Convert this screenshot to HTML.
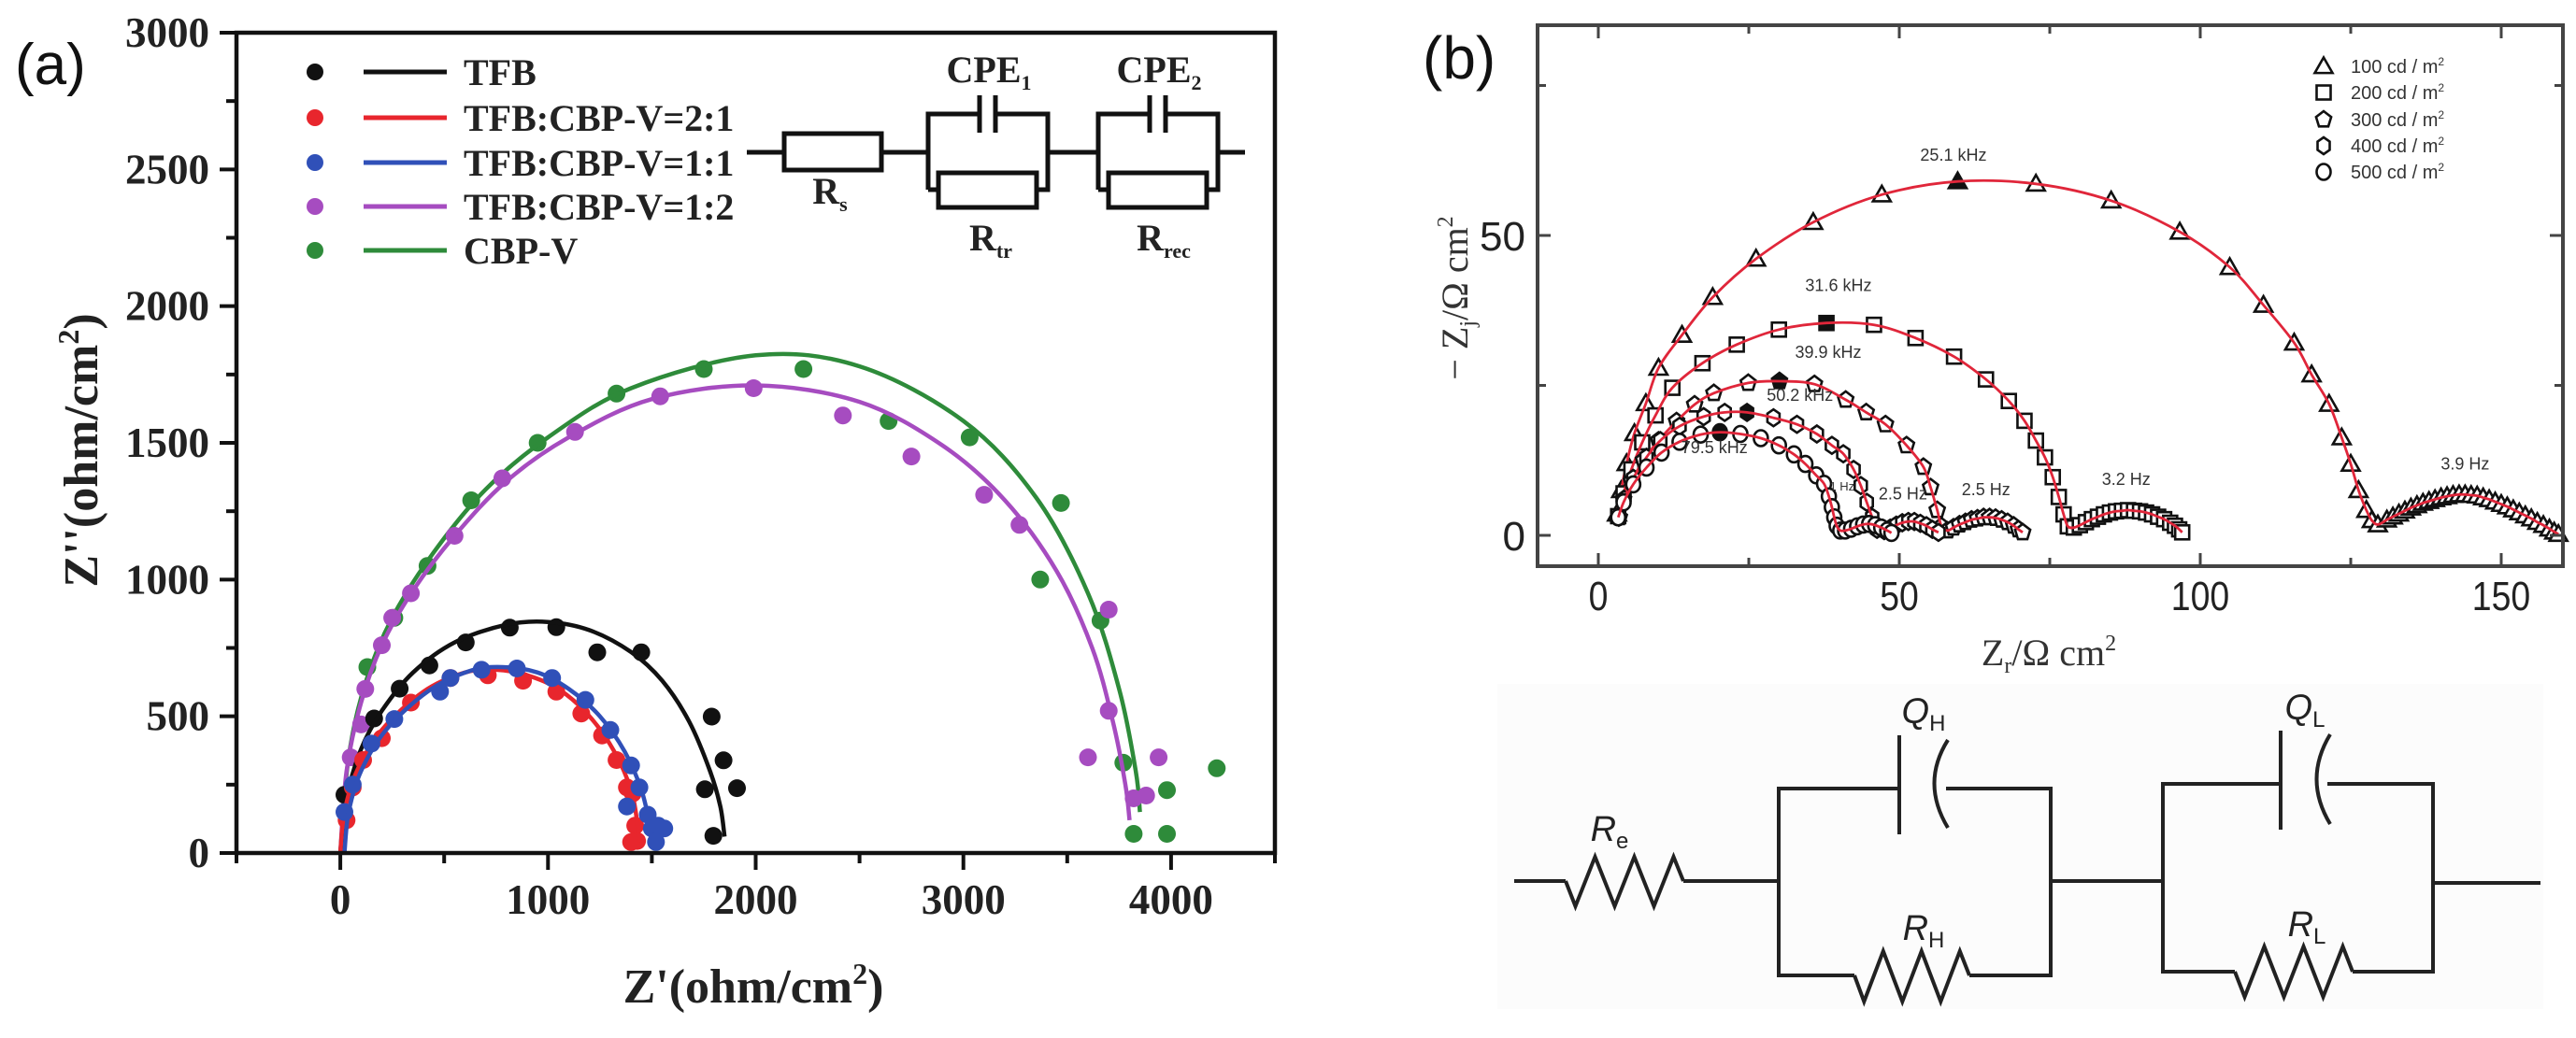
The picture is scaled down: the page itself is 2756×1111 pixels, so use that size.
<!DOCTYPE html>
<html><head><meta charset="utf-8"><style>
html,body{margin:0;padding:0;background:#fff;}
svg{display:block;}
</style></head><body>
<svg id="fig" xmlns="http://www.w3.org/2000/svg" width="2756" height="1111" viewBox="0 0 2756 1111">
<rect x="0" y="0" width="2756" height="1111" fill="#fff"/>
<g id="pa"></g>
<g id="pb"></g>
</svg>
<script>
// ---------- Panel (a) data ----------
const aSeriesNames = ["TFB","TFB:CBP-V=2:1","TFB:CBP-V=1:1","TFB:CBP-V=1:2","CBP-V"];
const aColors = ["#111111","#e8262d","#3050b8","#a64cc0","#2e8b3a"];
const aPtsTFB = [[20,213],[163,492],[286,601],[429,686],[604,770],[816,824],[1040,826],[1237,734],[1449,734],[1788,499],[1845,339],[1910,237],[1755,233],[1796,63]];
const aPtsR21 = [[30,120],[60,240],[110,340],[200,420],[340,550],[530,640],[710,650],[880,630],[1040,590],[1160,510],[1260,430],[1330,340],[1380,240],[1408,218],[1420,100],[1429,44],[1400,40]];
const aPtsR11 = [[20,150],[60,250],[150,400],[260,490],[480,590],[530,640],[680,670],[850,675],[1020,640],[1180,560],[1300,450],[1400,320],[1440,240],[1480,140],[1500,90],[1530,100],[1560,90],[1520,40],[1380,170]];
const aPtsR12 = [[50,350],[100,470],[120,600],[200,760],[250,860],[340,950],[550,1160],[780,1370],[1130,1540],[1540,1670],[1990,1700],[2420,1600],[2750,1450],[3100,1310],[3270,1200],[3700,890],[3700,520],[3600,350],[3820,200],[3880,210],[3940,350]];
const aPtsCBP = [[130,680],[260,860],[420,1050],[630,1290],[950,1500],[1330,1680],[1750,1770],[2230,1770],[2640,1580],[3030,1520],[3470,1280],[3370,1000],[3660,850],[3770,330],[3820,70],[3980,70],[3980,230],[4220,310]];
const aFitTFB = [[0,0],[30,200],[100,380],[200,520],[350,660],[550,770],[800,835],[1000,845],[1200,815],[1400,735],[1550,630],[1680,480],[1780,300],[1830,170],[1850,60]];
const aFitR21 = [[0,0],[20,150],[80,300],[200,450],[400,590],[600,660],[750,670],[900,650],[1050,600],[1200,500],[1320,370],[1400,230],[1430,110],[1440,40]];
const aFitR11 = [[20,0],[40,150],[100,300],[220,450],[420,590],[620,665],[780,680],[950,660],[1100,600],[1250,500],[1370,370],[1450,230],[1490,100],[1500,20]];
const aFitR12 = [[0,0],[30,300],[100,550],[200,760],[350,960],[550,1160],[800,1360],[1100,1520],[1500,1660],[2000,1710],[2500,1650],[2900,1490],[3200,1290],[3450,1030],[3620,750],[3720,480],[3780,250],[3800,120]];
const aFitCBP = [[0,0],[40,350],[120,620],[250,860],[450,1100],[700,1330],[1000,1520],[1400,1700],[2000,1820],[2500,1780],[3000,1580],[3350,1300],[3600,950],[3750,600],[3830,300],[3850,150]];
const aXTicks = [0,1000,2000,3000,4000];
const aYTicks = [0,500,1000,1500,2000,2500,3000];

// ---------- Panel (b) data ----------
const bSeriesNames = ["100 cd / m","200 cd / m","300 cd / m","400 cd / m","500 cd / m"];
const bShapes = ["tri","sq","pent","hex","circ"];
const bPts100 = [[3.1,3.6],[3.8,7.5],[4.7,12],[6,17],[7.9,22],[10,27.9],[13.9,33.4],[19,39.7],[26.2,46.1],[35.7,52.2],[47.1,56.8],[59.7,59],[72.7,58.6],[85.2,55.8],[96.6,50.6],[104.9,44.7],[110.5,38.4],[115.6,32.1],[118.5,26.8],[121.4,21.9],[123.5,16.3],[125,11.9],[126.3,7.5],[127.6,4.2],[128.5,2.5],[129.5,1.8],[131,2.6],[132,3.1],[133,3.6],[134,4.1],[135,4.6],[136,5],[137,5.4],[138,5.7],[139,6],[140,6.3],[141,6.5],[142,6.7],[143,6.8],[144,6.8],[145,6.7],[146,6.6],[147,6.3],[148,6],[149,5.6],[150,5.2],[151,4.8],[152,4.3],[153,3.8],[154,3.3],[155,2.8],[156,2.2],[157,1.7],[158,1.1],[158.8,0.6],[159.5,0.2]];
const bPts200 = [[3.3,3.2],[4.2,7],[5.5,11],[7.3,15.5],[9.5,20],[12.3,24.6],[17.3,28.7],[23,31.8],[30,34.3],[37.9,35.4],[45.8,35.1],[52.7,32.9],[59.1,29.8],[64.4,26],[68.2,22.4],[70.8,19.1],[72.7,15.8],[74.2,13],[75.5,9.7],[76.5,6.4],[77.3,3.5],[78,1.5],[79,1.3],[80,1.7],[81,2.2],[82,2.7],[83,3.1],[84,3.5],[85,3.8],[86,4],[87,4.1],[88,4.2],[89,4.1],[90,4],[91,3.8],[92,3.5],[93,3.1],[94,2.7],[95,2.1],[95.8,1.6],[96.5,1],[97,0.5]];
const bPts300 = [[3.5,3],[4.2,6],[5.5,9],[7.5,12.5],[10,15.8],[13,19],[16,21.8],[19.2,23.7],[24.9,25.4],[30.1,25.7],[35.9,25.2],[41.1,22.6],[44.5,20.5],[47.7,18.5],[51.2,15],[54,11.4],[55.2,8],[56.3,4.2],[57,1.5],[58,0.8],[59,1.3],[60,1.8],[61,2.2],[62,2.6],[63,2.8],[64,3],[65,3],[66,2.9],[67,2.6],[68,2.2],[69,1.6],[69.8,1],[70.5,0.5]];
const bPts400 = [[3.4,3],[4.3,6],[5.8,9.5],[8,13],[10.3,15.8],[13.5,18.2],[17.5,19.8],[21,20.5],[24.7,20.5],[29.1,19.6],[33,18.5],[36.3,16.9],[38.8,15],[40.7,13.6],[42.4,11],[43.6,8.3],[44.6,5.5],[45.5,3],[46.3,1],[47.5,0.8],[48.5,1.2],[49.5,1.7],[50.5,2.1],[51.5,2.3],[52.5,2.3],[53.5,2],[54.5,1.6],[55.5,1],[56.5,0.5]];
const bPts500 = [[3.3,3],[4.2,5.5],[5.8,8.5],[8,11.3],[10.5,13.8],[13.5,15.6],[17,16.8],[20.2,17.2],[23.6,16.9],[27,16.2],[30,15],[32.5,13.5],[34.4,11.9],[36.2,10],[37.5,8.6],[38.3,6.5],[38.8,4.7],[39.2,3],[39.6,1.6],[40.2,0.8],[41,0.8],[42,1.1],[43,1.5],[44,1.8],[45,1.9],[46,1.7],[47,1.3],[48,0.8],[48.7,0.4]];
const bFilledIdx = [11,9,9,8,7];
const bFreqLabels = ["25.1 kHz","31.6 kHz","39.9 kHz","50.2 kHz","79.5 kHz","1 Hz","2.5 Hz","2.5 Hz","3.2 Hz","3.9 Hz"];
const bFreqX = [59,39.9,38.2,33.5,19.3,40.5,50.6,64.4,87.7,144];
const bFreqY = [62.5,40.7,29.6,22.4,13.7,7.5,6,6.7,8.4,11];
const bXTicks = [0,50,100,150];
const bYTicks = [0,50];

const NS = "http://www.w3.org/2000/svg";
function mk(parent, tag, attrs, text){
  const e = document.createElementNS(NS, tag);
  for (const k in attrs) e.setAttribute(k, attrs[k]);
  if (text !== undefined) e.textContent = text;
  parent.appendChild(e);
  return e;
}
function smoothPath(pts){
  let d = "M"+pts[0][0].toFixed(1)+","+pts[0][1].toFixed(1);
  for (let i=0;i<pts.length-1;i++){
    const p0=pts[Math.max(0,i-1)], p1=pts[i], p2=pts[i+1], p3=pts[Math.min(pts.length-1,i+2)];
    const c1=[p1[0]+(p2[0]-p0[0])/6, p1[1]+(p2[1]-p0[1])/6];
    const c2=[p2[0]-(p3[0]-p1[0])/6, p2[1]-(p3[1]-p1[1])/6];
    d += " C"+c1[0].toFixed(1)+","+c1[1].toFixed(1)+" "+c2[0].toFixed(1)+","+c2[1].toFixed(1)+" "+p2[0].toFixed(1)+","+p2[1].toFixed(1);
  }
  return d;
}

// ================= PANEL A =================
(function(){
  const g = document.getElementById("pa");
  const L=253, R=1364, T=35, B=913;
  const ax = v => L + (v + 500) / 5000 * (R - L);
  const ay = v => B - v / 3000 * (B - T);
  const serif = '"Liberation Serif", serif';

  const lbl = mk(g,"text",{x:16,y:90,"font-family":'"Liberation Sans", sans-serif',"font-size":62,fill:"#111"},"(a)");
  
  

  const fits=[aFitTFB,aFitR21,aFitR11,aFitR12,aFitCBP];
  const pts=[aPtsTFB,aPtsR21,aPtsR11,aPtsR12,aPtsCBP];
  const order=[4,3,0,1,2];
  order.forEach(i=>{
    const sg = mk(g,"g",{});
    
    
    pts[i].forEach(p=>{
      const c = mk(sg,"circle",{cx:ax(p[0]).toFixed(1),cy:ay(p[1]).toFixed(1),r:9.5,fill:aColors[i]});
      
      
    });
    const f = mk(sg,"path",{d:smoothPath(fits[i].map(p=>[ax(p[0]),ay(p[1])])),fill:"none",stroke:aColors[i],"stroke-width":4.5});
    
    
  });

  const frame = mk(g,"rect",{x:L,y:T,width:R-L,height:B-T,fill:"none",stroke:"#111","stroke-width":4.5});
  
  

  const xa = mk(g,"g",{});
  
  
  for (let v=-500; v<=4500; v+=500){
    const major = (v%1000===0);
    mk(xa,"line",{x1:ax(v),x2:ax(v),y1:B,y2:B+(major?18:11),stroke:"#111","stroke-width":4});
  }
  aXTicks.forEach(v=>{
    const t = mk(xa,"text",{x:ax(v),y:978,"text-anchor":"middle","font-family":serif,"font-weight":"bold","font-size":45,fill:"#222"},String(v));
    
    
  });
  const ya = mk(g,"g",{});
  
  
  for (let v=0; v<=3000; v+=250){
    const major = (v%500===0);
    mk(ya,"line",{x1:L,x2:L-(major?18:11),y1:ay(v),y2:ay(v),stroke:"#111","stroke-width":4});
  }
  aYTicks.forEach(v=>{
    const t = mk(ya,"text",{x:224,y:ay(v)+15,"text-anchor":"end","font-family":serif,"font-weight":"bold","font-size":45,fill:"#222"},String(v));
    
    
  });
  const xt = mk(g,"text",{x:806,y:1073,"text-anchor":"middle","font-family":serif,"font-weight":"bold","font-size":52,fill:"#222"});
  
  
  xt.innerHTML = "Z'(ohm/cm<tspan dy='-20' font-size='32'>2</tspan><tspan dy='20'>)</tspan>";
  const yt = mk(g,"text",{x:0,y:0,"text-anchor":"middle","font-family":serif,"font-weight":"bold","font-size":52,fill:"#222",transform:"translate(104,482) rotate(-90)"});
  
  
  yt.innerHTML = "Z''(ohm/cm<tspan dy='-20' font-size='32'>2</tspan><tspan dy='20'>)</tspan>";

  const lg = mk(g,"g",{});
  
  
  const rowsY=[77,126,174,221,268];
  aSeriesNames.forEach((n,i)=>{
    const e = mk(lg,"g",{});
    
    
    mk(e,"circle",{cx:337,cy:rowsY[i],r:9,fill:aColors[i]});
    mk(e,"line",{x1:389,x2:478,y1:rowsY[i],y2:rowsY[i],stroke:aColors[i],"stroke-width":5});
    mk(e,"text",{x:496,y:rowsY[i]+14,"font-family":serif,"font-weight":"bold","font-size":40,fill:"#222"},n);
  });

  const c = mk(g,"g",{stroke:"#111","stroke-width":5,fill:"none"});
  
  
  const W=163;
  mk(c,"path",{d:`M799 ${W} H839 M943 ${W} H993 M1121 ${W} H1175 M1303 ${W} H1332`});
  mk(c,"rect",{x:839,y:143,width:104,height:39,fill:"#fff"});
  [[993,1121,1004,1109,1048,1065],[1175,1303,1186,1291,1230,1247]].forEach(b=>{
    mk(c,"path",{d:`M${b[0]} 203 V122 H${b[4]} M${b[5]} 122 H${b[1]} V203 H${b[3]} M${b[0]} 203 H${b[2]}`});
    mk(c,"path",{d:`M${b[4]} 102 V142 M${b[5]} 102 V142`});
    mk(c,"rect",{x:b[2],y:185,width:b[3]-b[2],height:37,fill:"#fff"});
  });
  const ct = mk(g,"g",{"font-family":serif,"font-weight":"bold","font-size":40,fill:"#222","text-anchor":"middle"});
  
  
  ct.innerHTML = "<text x='1058' y='88'>CPE<tspan font-size='22' dy='8'>1</tspan></text>"+
    "<text x='1240' y='88'>CPE<tspan font-size='22' dy='8'>2</tspan></text>"+
    "<text x='888' y='218'>R<tspan font-size='22' dy='8'>s</tspan></text>"+
    "<text x='1060' y='268'>R<tspan font-size='22' dy='8'>tr</tspan></text>"+
    "<text x='1245' y='268'>R<tspan font-size='22' dy='8'>rec</tspan></text>";
})();

// ================= PANEL B =================
(function(){
  const g = document.getElementById("pb");
  const L=1645, R=2742, T=27, B=606;
  const bx = v => 1710 + v * 6.44;
  const by = v => 573 - v * 6.42;
  const sans = '"Liberation Sans", sans-serif';
  const serif = '"Liberation Serif", serif';

  const lbl = mk(g,"text",{x:1522,y:84,"font-family":sans,"font-size":64,fill:"#111"},"(b)");
  
  

  function marker(parent, shape, x, y, filled){
    const s=9.5, st={fill:filled?"#111":"#fff",stroke:"#111","stroke-width":2.6};
    let e;
    if (shape==="tri") e = mk(parent,"polygon",Object.assign({points:`${x},${y-s} ${x+s},${y+s*0.75} ${x-s},${y+s*0.75}`},st));
    else if (shape==="sq") e = mk(parent,"rect",Object.assign({x:x-7.5,y:y-7.5,width:15,height:15},st));
    else if (shape==="pent"){ let p=[]; for(let k=0;k<5;k++){const a=-Math.PI/2+k*2*Math.PI/5; p.push((x+8.5*Math.cos(a)).toFixed(1)+","+(y+9*Math.sin(a)).toFixed(1));} e = mk(parent,"polygon",Object.assign({points:p.join(" ")},st)); }
    else if (shape==="hex"){ let p=[]; for(let k=0;k<6;k++){const a=-Math.PI/2+k*Math.PI/3; p.push((x+7.5*Math.cos(a)).toFixed(1)+","+(y+9*Math.sin(a)).toFixed(1));} e = mk(parent,"polygon",Object.assign({points:p.join(" ")},st)); }
    else e = mk(parent,"ellipse",Object.assign({cx:x,cy:y,rx:7.5,ry:8.5},st));
    return e;
  }

  const all=[bPts100,bPts200,bPts300,bPts400,bPts500];
  all.forEach((pts,i)=>{
    const sg = mk(g,"g",{});
    
    
    pts.forEach((p,j)=>{
      const m = marker(sg,bShapes[i],bx(p[0]),by(p[1]),j===bFilledIdx[i]);
      
      
    });
    const f = mk(sg,"path",{d:smoothPath(pts.map(p=>[bx(p[0]),by(p[1])])),fill:"none",stroke:"#e0263a","stroke-width":2.8});
    
    
  });

  bFreqLabels.forEach((t,i)=>{
    const e = mk(g,"text",{x:bx(bFreqX[i]),y:by(bFreqY[i]),"text-anchor":"middle","font-family":sans,"font-size":i===5?13:18,fill:"#333"},t);
    
    
  });

  const frame = mk(g,"rect",{x:L,y:T,width:R-L,height:B-T,fill:"none",stroke:"#444","stroke-width":4});
  
  

  const xa = mk(g,"g",{stroke:"#444","stroke-width":3});
  
  
  for (let v=0; v<=150; v+=25){
    const len = (v%50===0)?14:9;
    mk(xa,"line",{x1:bx(v),x2:bx(v),y1:B,y2:B-len});
    mk(xa,"line",{x1:bx(v),x2:bx(v),y1:T,y2:T+len});
  }
  bXTicks.forEach(v=>{
    const t = mk(g,"text",{x:bx(v),y:653,"text-anchor":"middle","font-family":sans,"font-size":44,fill:"#222",transform:`translate(${bx(v)},0) scale(0.85,1) translate(${-bx(v)},0)`},String(v));
    
    
  });
  const ya = mk(g,"g",{stroke:"#444","stroke-width":3});
  
  
  for (let v=0; v<=75; v+=25){
    const len = (v%50===0)?14:9;
    mk(ya,"line",{x1:L,x2:L+len,y1:by(v),y2:by(v)});
    mk(ya,"line",{x1:R,x2:R-len,y1:by(v),y2:by(v)});
  }
  bYTicks.forEach(v=>{
    const t = mk(g,"text",{x:1632,y:by(v)+16,"text-anchor":"end","font-family":sans,"font-size":44,fill:"#222"},String(v));
    
    
  });
  const xt = mk(g,"text",{x:2192,y:712,"text-anchor":"middle","font-family":serif,"font-size":40,fill:"#333"});
  
  
  xt.innerHTML = "Z<tspan font-size='24' dy='8'>r</tspan><tspan dy='-8'>/Ω cm</tspan><tspan font-size='24' dy='-16'>2</tspan>";
  const yt = mk(g,"text",{x:0,y:0,"text-anchor":"middle","font-family":serif,"font-size":40,fill:"#333",transform:"translate(1570,319) rotate(-90)"});
  
  
  yt.innerHTML = "− Z<tspan font-size='24' dy='8'>j</tspan><tspan dy='-8'>/Ω cm</tspan><tspan font-size='24' dy='-16'>2</tspan>";

  const lg = mk(g,"g",{});
  
  
  const ry=[71,99,128,156,184];
  bSeriesNames.forEach((n,i)=>{
    const e = mk(lg,"g",{});
    
    
    marker(e,bShapes[i],2486,ry[i],false);
    const t = mk(e,"text",{x:2515,y:ry[i]+7,"font-family":sans,"font-size":20,fill:"#333"},n);
    t.innerHTML = n+"<tspan font-size='12' dy='-8'>2</tspan>";
  });

  const cg = mk(g,"g",{});
  
  
  mk(cg,"rect",{x:1602,y:732,width:1119,height:348,fill:"#fcfcfc"});
  const c = mk(cg,"g",{stroke:"#222","stroke-width":4,fill:"none","stroke-linejoin":"miter"});
  function zig(x1,x2,y,up,down){
    const n=6, w=(x2-x1)/n; let d=`M${x1} ${y}`;
    for(let k=0;k<n;k++){ const yy = (k%2===0)?down:up; d+=` L${(x1+w*(k+0.5)).toFixed(1)} ${yy}`; }
    d+=` L${x2} ${y}`; return d;
  }
  mk(c,"path",{d:`M1620 943 H1675 M1801 943 H1903 M2194 943 H2314 M2603 945 H2718`});
  mk(c,"path",{d:zig(1675,1801,943,917,970)});
  mk(c,"path",{d:`M1984 1044 H1903 V844 H2032 M2082 844 H2194 V1044 H2107`});
  mk(c,"path",{d:zig(1984,2107,1044,1018,1072)});
  mk(c,"path",{d:`M2032 787 V893`});
  mk(c,"path",{d:`M2084 792 Q2055 838 2084 886`});
  mk(c,"path",{d:`M2391 1040 H2314 V839 H2440 M2490 839 H2603 V1040 H2517`});
  mk(c,"path",{d:zig(2391,2517,1040,1013,1067)});
  mk(c,"path",{d:`M2440 782 V888`});
  mk(c,"path",{d:`M2493 786 Q2464 834 2493 882`});
  const lt = mk(cg,"g",{"font-family":sans,"font-style":"italic","font-size":38,fill:"#222","text-anchor":"middle"});
  lt.innerHTML = "<text x='1722' y='900'>R<tspan font-size='24' dy='8' font-style='normal'>e</tspan></text>"+
    "<text x='2058' y='774'>Q<tspan font-size='24' dy='8' font-style='normal'>H</tspan></text>"+
    "<text x='2466' y='770'>Q<tspan font-size='24' dy='8' font-style='normal'>L</tspan></text>"+
    "<text x='2058' y='1006'>R<tspan font-size='24' dy='8' font-style='normal'>H</tspan></text>"+
    "<text x='2468' y='1002'>R<tspan font-size='24' dy='8' font-style='normal'>L</tspan></text>";
})();
</script>
</body></html>
